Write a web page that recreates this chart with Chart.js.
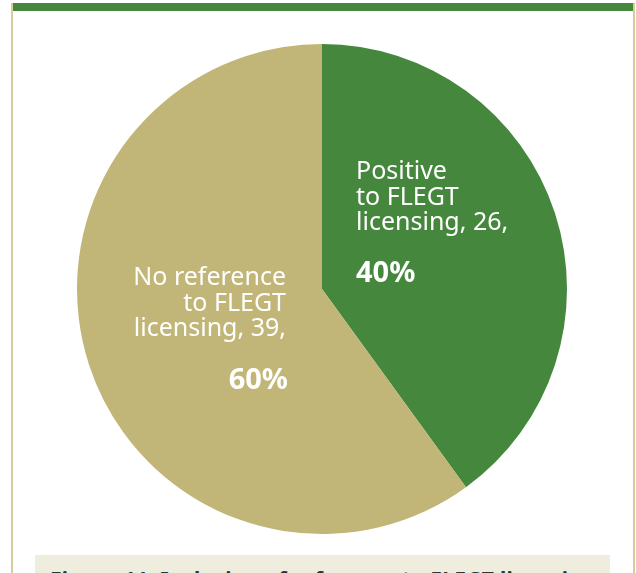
<!DOCTYPE html>
<html lang="en">
<head>
<meta charset="utf-8"/>
<title>FLEGT licensing references</title>
<style>
  body { margin: 0; background: #fff; font-family: "Noto Sans", sans-serif; overflow: hidden; }
  #frame { position: absolute; left: 11px; top: 3px; width: 620px; height: 700px;
           border-left: 2px solid #d6cc9c; border-right: 2px solid #d6cc9c; }
  #topbar { position: absolute; left: 0; top: 0; width: 100%; height: 8px; background: #46873e; }
  #pie { position: absolute; left: 0; top: 0; }
  #caption { position: absolute; left: 35px; top: 555px; width: 575px; height: 60px;
             background: #efeddd; }
  #caption p { margin: 0; padding: 12px 0 0 15px; font-weight: bold; font-size: 21px; line-height: 24px;
               letter-spacing: 0.3px; color: #333; white-space: nowrap; }
</style>
</head>
<body>
<div id="frame"><div id="topbar"></div></div>
<canvas id="pie" width="636" height="550"></canvas>
<div id="caption"><p>Figure 11: Inclusion of reference to FLEGT licensing</p></div>
<script src="https://cdn.jsdelivr.net/npm/chart.js"></script>
<script>
const categories = ["Positive to FLEGT licensing", "No reference to FLEGT licensing"];
const counts = [26, 39];
const labelLines = [["Positive", "to FLEGT", "licensing, 26,"], ["No reference", "to FLEGT", "licensing, 39,"]];
const sliceColors = ["#46873e", "#c1b677"];

// text blocks inside each slice: first baseline offset from the pie centre,
// then the percentage below it
const labelPlacement = [
  { dx: 34, dy: -110, align: "left", pctDx: 0, pctDy: 103 },
  { dx: -36, dy: -4, align: "right", pctDx: 2, pctDy: 104 }
];
const lineGap = 25.7;

const sliceLabels = {
  id: "sliceLabels",
  afterDatasetsDraw(chart) {
    const ctx = chart.ctx;
    const meta = chart.getDatasetMeta(0);
    const total = counts.reduce((a, b) => a + b, 0);
    ctx.save();
    ctx.fillStyle = "#fff";
    ctx.textBaseline = "alphabetic";
    meta.data.forEach((arc, i) => {
      const p = labelPlacement[i];
      const x = arc.x + p.dx, y = arc.y + p.dy;
      ctx.textAlign = p.align;
      ctx.font = "25px 'Noto Sans'";
      labelLines[i].forEach((line, j) => ctx.fillText(line, x, y + j * lineGap));
      ctx.font = "bold 29px 'Noto Sans'";
      const pct = Math.round(counts[i] / total * 100) + "%";
      ctx.fillText(pct, x + p.pctDx, y + p.pctDy);
    });
    ctx.restore();
  }
};

new Chart(document.getElementById("pie"), {
  type: "pie",
  data: {
    labels: categories,
    datasets: [{ data: counts, backgroundColor: sliceColors, borderWidth: 0, hoverOffset: 0 }]
  },
  options: {
    responsive: false,
    animation: false,
    layout: { padding: { left: 77, right: 69, top: 44, bottom: 16 } },
    plugins: { legend: { display: false }, tooltip: { enabled: false } }
  },
  plugins: [sliceLabels]
});
</script>
</body>
</html>
